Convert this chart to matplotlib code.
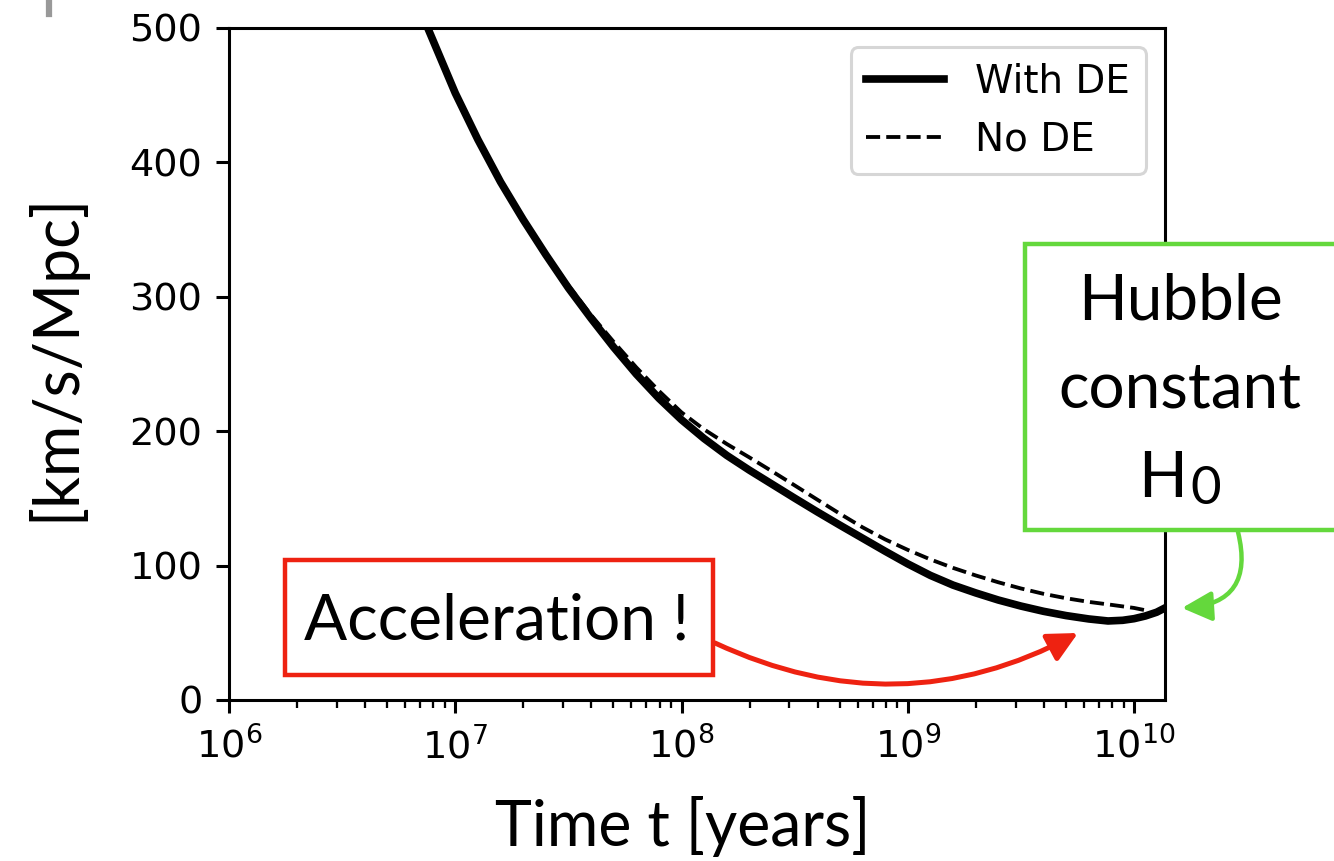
import numpy as np
import matplotlib
matplotlib.use("Agg")
import matplotlib.pyplot as plt
from matplotlib.patches import Rectangle, FancyArrowPatch
from matplotlib.lines import Line2D

# ---------------- data ----------------
log_t_de = [6.860, 6.881, 7.0, 7.1, 7.2, 7.3, 7.4, 7.5, 7.6, 7.7, 7.8, 7.9, 8.0,
            8.1, 8.2, 8.3, 8.4, 8.5, 8.6, 8.7, 8.8, 8.9, 9.0, 9.1, 9.2, 9.3,
            9.4, 9.5, 9.6, 9.7, 9.8, 9.885, 9.95, 10.0, 10.05, 10.1, 10.137]
H_de = [508, 499, 451.6, 417, 385.5, 357.5, 331.4, 306.6, 284, 262.5, 242.5, 224.5, 208.5,
        194.5, 182, 171, 160.6, 150.2, 140, 130.1, 120.4, 110.7, 101.3, 92.7, 85.5, 79.7,
        74.4, 69.9, 66.0, 62.8, 60.3, 58.8, 59.3, 60.5, 62.5, 65.3, 68.5]

log_t_node = [6.860, 6.881, 7.0, 7.1, 7.2, 7.3, 7.4, 7.5, 7.6, 7.7, 7.8, 7.9, 8.0,
              8.1, 8.2, 8.3, 8.4, 8.5, 8.6, 8.7, 8.8, 8.9, 9.0, 9.1, 9.2, 9.3,
              9.4, 9.5, 9.6, 9.7, 9.8, 9.9, 10.0, 10.044]
H_node = [508, 499, 451.6, 417, 385.8, 358, 332.5, 308.5, 286.5, 266.5, 247.5, 230, 214,
          201.3, 190.5, 180.5, 170.2, 159.7, 149.1, 138.6, 128.5, 119.5, 111.7, 104.6, 98.3, 92.7,
          87.6, 83.0, 79.0, 75.7, 73.0, 70.8, 68.5, 67]

series_labels = ["With DE", "No DE"]
y_ticks = [0, 100, 200, 300, 400, 500]
x_limits_log = (6.0, 10.137)

# ---------------- style ----------------
s = 2.75
plt.rcParams.update({
    "font.family": ["DejaVu Sans"],
    "font.size": 10 * s,
    "axes.linewidth": 0.8 * s,
    "xtick.major.size": 3.5 * s, "xtick.major.width": 0.8 * s,
    "xtick.minor.size": 2 * s, "xtick.minor.width": 0.6 * s,
    "ytick.major.size": 3.5 * s, "ytick.major.width": 0.8 * s,
    "xtick.major.pad": 3.5 * s, "ytick.major.pad": 3.5 * s,
})

W, Hpx = 1334, 861
fig = plt.figure(figsize=(W / 100, Hpx / 100), dpi=100)

def fx(x):
    return x / W

def fy(y):
    return 1 - y / Hpx

ax = fig.add_axes([fx(229), fy(700), fx(1165) - fx(229), fy(28) - fy(700)])

ax.plot(10 ** np.array(log_t_de), H_de, color="black", lw=2 * s,
        solid_joinstyle="round", label=series_labels[0])
ax.plot(10 ** np.array(log_t_node), H_node, color="black", lw=1 * s, ls="--",
        label=series_labels[1])
ax.set_xscale("log")
ax.set_xlim(10 ** x_limits_log[0], 10 ** x_limits_log[1])
ax.set_ylim(0, 500)
ax.set_yticks(y_ticks)
leg = ax.legend(loc="upper right", fontsize=28)
leg.get_frame().set_linewidth(0.8 * s)

# ---------------- slide text (Avenir-like) ----------------
tfont = ["Lato", "DejaVu Sans"]
tw = "normal"
fig.text(fx(683), fy(846), "Time t [years]", family=tfont, weight=tw, fontsize=45,
         ha="center", va="baseline")
fig.text(fx(55), fy(357), "[km/s/Mpc]", family=tfont, weight=tw, fontsize=45,
         rotation=90, ha="center", va="center")

red = "#EE2211"
green = "#64D83C"

# Acceleration box
fig.add_artist(Rectangle((fx(285), fy(675)), fx(713) - fx(285), fy(560) - fy(675),
                         transform=fig.transFigure, facecolor="white",
                         edgecolor=red, lw=3.2, zorder=5))
fig.text(fx(497), fy(640), "Acceleration !", family=tfont, weight=tw, fontsize=46,
         ha="center", va="baseline", zorder=6)

# Hubble box
fig.add_artist(Rectangle((fx(1025), fy(530)), fx(1345) - fx(1025), fy(244) - fy(530),
                         transform=fig.transFigure, facecolor="white",
                         edgecolor=green, lw=3.2, zorder=5, clip_on=False))
fig.text(fx(1180), fy(320), "Hubble", family=tfont, weight=tw, fontsize=46,
         ha="center", va="baseline", zorder=6)
fig.text(fx(1180), fy(407), "constant", family=tfont, weight=tw, fontsize=46,
         ha="center", va="baseline", zorder=6)
fig.text(fx(1187), fy(497), "H", family=tfont, weight=tw, fontsize=46,
         ha="right", va="baseline", zorder=6)
fig.text(fx(1190), fy(504), "0", family=tfont, weight=tw, fontsize=38,
         ha="left", va="baseline", zorder=6)

# arrows
arr_red = FancyArrowPatch((fx(715), fy(643)), (fx(1078), fy(633)),
                          transform=fig.transFigure,
                          connectionstyle="arc3,rad=0.25",
                          arrowstyle="-|>,head_length=18,head_width=9",
                          mutation_scale=1, color=red, lw=3.6,
                          shrinkA=0, shrinkB=0, zorder=6)
fig.add_artist(arr_red)
arr_green = FancyArrowPatch((fx(1238), fy(532)), (fx(1182), fy(608)),
                            transform=fig.transFigure,
                            connectionstyle="arc3,rad=-0.6",
                            arrowstyle="-|>,head_length=18,head_width=9",
                            mutation_scale=1, color=green, lw=3.2,
                            shrinkA=0, shrinkB=0, zorder=6)
fig.add_artist(arr_green)

# small grey mark at top-left of the slide
fig.add_artist(Line2D([fx(49), fx(49)], [fy(0), fy(14)], transform=fig.transFigure,
                      color="#999999", lw=4.5))

fig.savefig("out.png", dpi=100)
